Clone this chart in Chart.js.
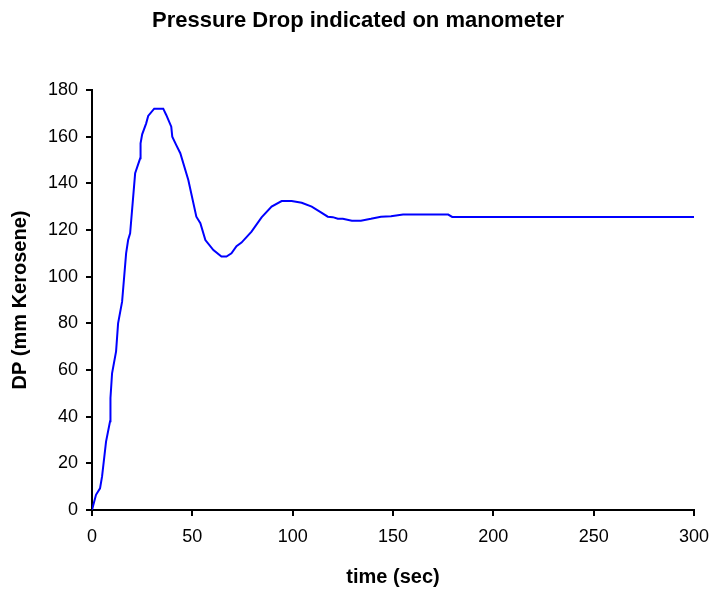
<!DOCTYPE html>
<html>
<head>
<meta charset="utf-8">
<script src="https://cdn.jsdelivr.net/npm/chart.js@4"></script>
<style>
  html, body { margin: 0; padding: 0; background: #fff; }
  #wrap { width: 716px; height: 590px; }
</style>
</head>
<body>
<div id="wrap"><canvas id="dpChart" width="716" height="590"></canvas></div>
<script>
// readings taken off the manometer trace
const timeSec = [0, 2, 4, 5, 7, 9, 9.2, 10, 12, 13, 15, 17, 18, 19, 21.5, 24, 24.2, 25, 27, 28,
  31, 35.5, 37, 39.5, 40, 42, 44, 48, 52, 54, 56.5, 60.5, 64.5, 67, 69.5, 72, 74.5, 79.5,
  84.5, 89.5, 94.5, 99.5, 104.5, 109.5, 113.5, 117.5, 120, 122.5, 125, 129.5, 134, 139,
  144, 149, 155, 177.5, 179.5, 300];
const dpKerosene = [0, 6.5, 9.3, 14.3, 29.3, 38, 48, 58.6, 68, 80, 89.3, 110, 115.7, 118.6,
  144.3, 150.7, 157.1, 161, 165.7, 168.9, 172, 172, 169.3, 164.3, 160, 156.4, 152.9, 141.4,
  125.7, 122.9, 115.7, 111.4, 108.6, 108.6, 110, 113.1, 114.6, 119.3, 125.4, 130, 132.4,
  132.4, 131.7, 130, 127.9, 125.7, 125.5, 124.8, 124.8, 124, 124, 124.8, 125.7, 125.9,
  126.6, 126.6, 125.6, 125.6];
const xTicks = [0, 50, 100, 150, 200, 250, 300];
const yTicks = [0, 20, 40, 60, 80, 100, 120, 140, 160, 180];

const fontFamily = '"Liberation Sans", Arial, sans-serif';
const points = timeSec.map((t, i) => ({ x: t, y: dpKerosene[i] }));

new Chart(document.getElementById("dpChart").getContext("2d"), {
  type: "line",
  data: {
    datasets: [
      {
        label: "DP",
        data: points,
        borderColor: "#0000ff",
        borderWidth: 2,
        pointRadius: 0,
        tension: 0,
        fill: false,
      },
    ],
  },
  options: {
    responsive: false,
    animation: false,
    layout: { padding: 0 },
    plugins: {
      legend: { display: false },
      tooltip: { enabled: false },
      title: {
        display: true,
        text: "Pressure Drop indicated on manometer",
        color: "#000",
        font: { family: fontFamily, size: 22, weight: "bold" },
        padding: { top: 8, bottom: 55.6 },
      },
    },
    scales: {
      x: {
        type: "linear",
        min: 0,
        max: 300,
        afterBuildTicks: (axis) => { axis.ticks = xTicks.map((v) => ({ value: v })); },
        afterFit: (axis) => {
          axis.height = 80;
          axis.paddingRight = 22;
        },
        border: { display: true, color: "#000", width: 2 },
        grid: { drawOnChartArea: false, drawTicks: true, tickLength: 6, color: "#000", lineWidth: 2 },
        ticks: { color: "#000", font: { family: fontFamily, size: 18 }, padding: 10, maxRotation: 0 },
        title: {
          display: true,
          text: "time (sec)",
          color: "#000",
          font: { family: fontFamily, size: 20, weight: "bold" },
          padding: { top: 0, bottom: 1 },
        },
      },
      y: {
        type: "linear",
        min: 0,
        max: 180,
        afterBuildTicks: (axis) => { axis.ticks = yTicks.map((v) => ({ value: v })); },
        afterFit: (axis) => { axis.width = 92; },
        border: { display: true, color: "#000", width: 2 },
        grid: { drawOnChartArea: false, drawTicks: true, tickLength: 6, color: "#000", lineWidth: 2 },
        ticks: { color: "#000", font: { family: fontFamily, size: 18 }, padding: 8 },
        title: {
          display: true,
          text: "DP (mm Kerosene)",
          color: "#000",
          font: { family: fontFamily, size: 20, weight: "bold" },
          padding: { top: 8, bottom: 0 },
        },
      },
    },
  },
});
</script>
</body>
</html>
